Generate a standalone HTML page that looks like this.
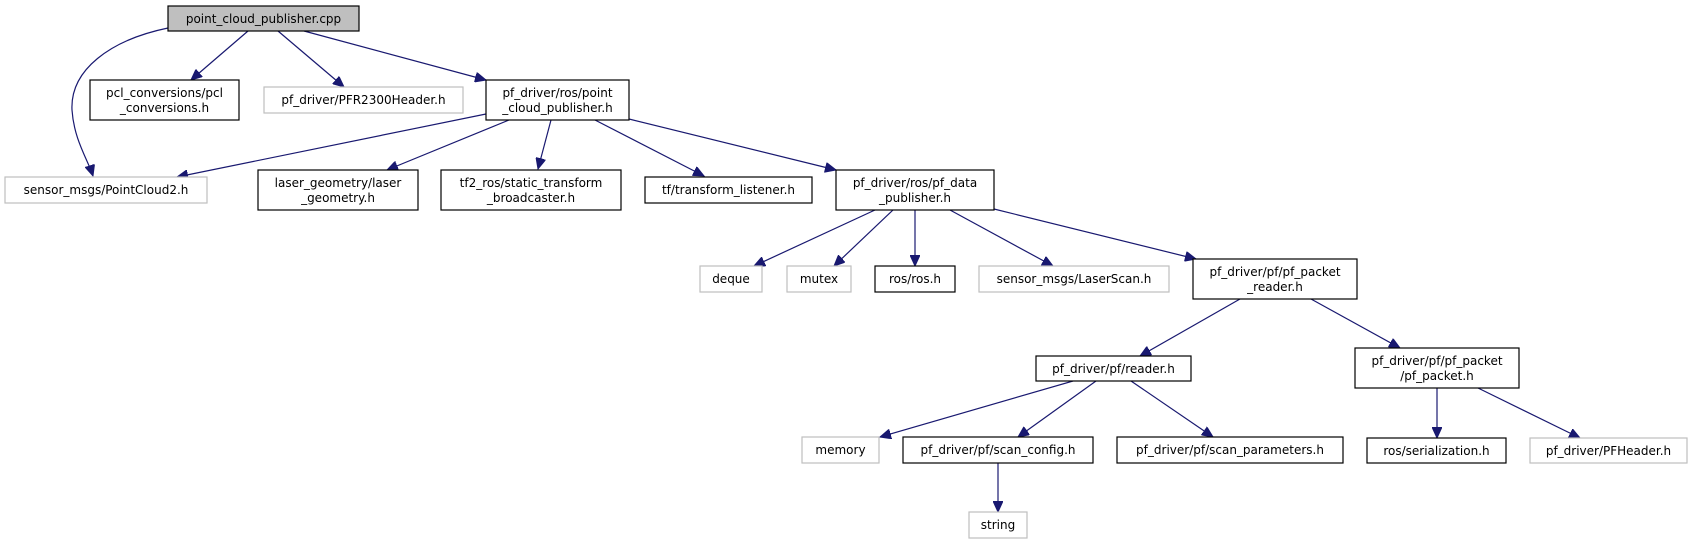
<!DOCTYPE html>
<html><head><meta charset="utf-8"><style>
html,body{margin:0;padding:0;background:#fff;}
svg{display:block;}
text{font-family:"DejaVu Sans","Liberation Sans",sans-serif;font-size:12px;fill:#000;text-anchor:middle;}
.b{fill:#fff;stroke:#000;stroke-width:1.2;}
.g{fill:#fff;stroke:#bfbfbf;stroke-width:1.2;}
.e{fill:none;stroke:#191970;stroke-width:1.2;}
</style></head><body>
<svg width="1695" height="544" viewBox="0 0 1695 544" xmlns="http://www.w3.org/2000/svg">
<defs><marker id="a" markerWidth="12" markerHeight="10" refX="11" refY="5" orient="auto" markerUnits="userSpaceOnUse"><path d="M0,0 L11,5 L0,10 z" fill="#191970" stroke="#191970"/></marker></defs>

<!-- edges -->
<path class="e" marker-end="url(#a)" d="M168,28 C110,40 70,70 72,110 C74,140 88,160 93,176"/>
<line class="e" marker-end="url(#a)" x1="248" y1="31" x2="191" y2="80"/>
<line class="e" marker-end="url(#a)" x1="278" y1="31" x2="344" y2="87"/>
<line class="e" marker-end="url(#a)" x1="304" y1="31" x2="486" y2="80"/>
<line class="e" marker-end="url(#a)" x1="486" y1="114" x2="177" y2="177"/>
<line class="e" marker-end="url(#a)" x1="509" y1="120" x2="387" y2="170"/>
<line class="e" marker-end="url(#a)" x1="551" y1="120" x2="538" y2="169"/>
<line class="e" marker-end="url(#a)" x1="595" y1="120" x2="704" y2="176"/>
<line class="e" marker-end="url(#a)" x1="629" y1="119" x2="836" y2="170"/>
<line class="e" marker-end="url(#a)" x1="875" y1="210" x2="754" y2="266"/>
<line class="e" marker-end="url(#a)" x1="893" y1="210" x2="834" y2="266"/>
<line class="e" marker-end="url(#a)" x1="915" y1="210" x2="915" y2="266"/>
<line class="e" marker-end="url(#a)" x1="950" y1="210" x2="1053" y2="266"/>
<line class="e" marker-end="url(#a)" x1="994" y1="209" x2="1196" y2="259"/>
<line class="e" marker-end="url(#a)" x1="1240" y1="299" x2="1140" y2="356"/>
<line class="e" marker-end="url(#a)" x1="1311" y1="299" x2="1400" y2="348"/>
<line class="e" marker-end="url(#a)" x1="1073" y1="381" x2="880" y2="437"/>
<line class="e" marker-end="url(#a)" x1="1096" y1="381" x2="1018" y2="437"/>
<line class="e" marker-end="url(#a)" x1="1131" y1="381" x2="1213" y2="437"/>
<line class="e" marker-end="url(#a)" x1="998" y1="463" x2="998" y2="512"/>
<line class="e" marker-end="url(#a)" x1="1437" y1="388" x2="1437" y2="438"/>
<line class="e" marker-end="url(#a)" x1="1478" y1="388" x2="1580" y2="438"/>

<!-- nodes -->
<rect x="168" y="6" width="191" height="25" fill="#bfbfbf" stroke="#000" stroke-width="1.2"/>
<text x="263.5" y="23">point_cloud_publisher.cpp</text>

<rect class="b" x="90" y="80" width="149" height="40"/>
<text x="164.5" y="97">pcl_conversions/pcl</text><text x="164.5" y="112">_conversions.h</text>

<rect class="g" x="264" y="87" width="199" height="26"/>
<text x="363.5" y="104">pf_driver/PFR2300Header.h</text>

<rect class="b" x="486" y="80" width="143" height="40"/>
<text x="557.5" y="97">pf_driver/ros/point</text><text x="557.5" y="112">_cloud_publisher.h</text>

<rect class="g" x="5" y="177" width="202" height="26"/>
<text x="106" y="194">sensor_msgs/PointCloud2.h</text>

<rect class="b" x="258" y="170" width="160" height="40"/>
<text x="338" y="187">laser_geometry/laser</text><text x="338" y="202">_geometry.h</text>

<rect class="b" x="441" y="170" width="180" height="40"/>
<text x="531" y="187">tf2_ros/static_transform</text><text x="531" y="202">_broadcaster.h</text>

<rect class="b" x="645" y="177" width="167" height="26"/>
<text x="728.5" y="194">tf/transform_listener.h</text>

<rect class="b" x="836" y="170" width="158" height="40"/>
<text x="915" y="187">pf_driver/ros/pf_data</text><text x="915" y="202">_publisher.h</text>

<rect class="g" x="700" y="266" width="62" height="26"/>
<text x="731" y="283">deque</text>

<rect class="g" x="787" y="266" width="64" height="26"/>
<text x="819" y="283">mutex</text>

<rect class="b" x="875" y="266" width="80" height="26"/>
<text x="915" y="283">ros/ros.h</text>

<rect class="g" x="979" y="266" width="190" height="26"/>
<text x="1074" y="283">sensor_msgs/LaserScan.h</text>

<rect class="b" x="1193" y="259" width="164" height="40"/>
<text x="1275" y="276">pf_driver/pf/pf_packet</text><text x="1275" y="291">_reader.h</text>

<rect class="b" x="1036" y="356" width="155" height="25"/>
<text x="1113.5" y="373">pf_driver/pf/reader.h</text>

<rect class="b" x="1355" y="348" width="164" height="40"/>
<text x="1437" y="365">pf_driver/pf/pf_packet</text><text x="1437" y="380">/pf_packet.h</text>

<rect class="g" x="802" y="437" width="77" height="26"/>
<text x="840.5" y="454">memory</text>

<rect class="b" x="903" y="437" width="190" height="26"/>
<text x="998" y="454">pf_driver/pf/scan_config.h</text>

<rect class="b" x="1117" y="437" width="226" height="26"/>
<text x="1230" y="454">pf_driver/pf/scan_parameters.h</text>

<rect class="b" x="1367" y="438" width="139" height="25"/>
<text x="1436.5" y="455">ros/serialization.h</text>

<rect class="g" x="1530" y="438" width="157" height="25"/>
<text x="1608.5" y="455">pf_driver/PFHeader.h</text>

<rect class="g" x="969" y="512" width="58" height="26"/>
<text x="998" y="529">string</text>
</svg>
</body></html>
